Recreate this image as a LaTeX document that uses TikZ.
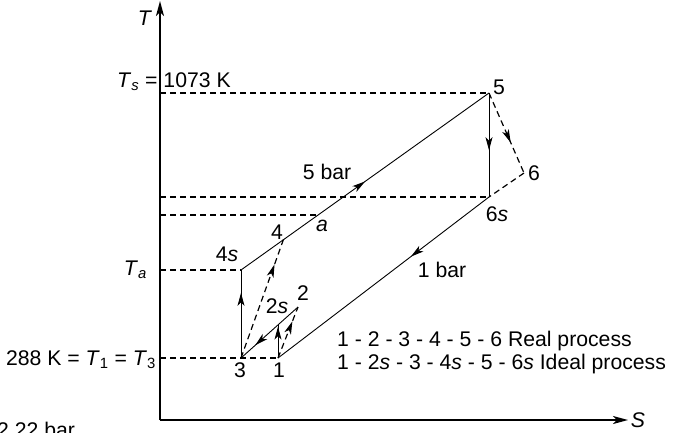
\documentclass[tikz,border=0pt]{standalone}
\usepackage{fontspec}
\setmainfont{Liberation Sans}
\usetikzlibrary{arrows.meta,decorations.markings}
\tikzset{
  axisline/.style={line width=1.6pt,-{Stealth[length=15pt,width=8pt,inset=4pt]}},
  proc/.style={line width=0.9pt},
  dsh/.style={line width=1.2pt,dash pattern=on 6pt off 4pt},
  marr/.style={postaction={decorate,decoration={markings,
     mark=at position #1 with {\arrow{Stealth[length=13pt,width=7pt,inset=3.5pt]}}}}},
  lbl/.style={inner sep=0pt,anchor=base},
}
\begin{document}
\begin{tikzpicture}[x=1pt,y=-1pt,font=\fontsize{21.2}{24}\selectfont]
\useasboundingbox (0,0) rectangle (679,432);
% coordinates
\coordinate (O) at (160,420);
\coordinate (Ttop) at (160,1);
\coordinate (Send) at (628,420);
\coordinate (p1) at (278,358);
\coordinate (p2s) at (278,325);
\coordinate (p2) at (298,307);
\coordinate (p3) at (241,358);
\coordinate (p4s) at (241,270);
\coordinate (p4) at (284,238);
\coordinate (pa) at (317,215);
\coordinate (p5) at (489,93);
\coordinate (p6s) at (489,197);
\coordinate (p6) at (524,173);
% axes
\draw[axisline] (O) -- (Ttop);
\draw[axisline] (O) -- (Send);
% dashed guide lines
\draw[dsh] (p5 -| O) -- (p5);
\draw[dsh] (p6s -| O) -- (p6s);
\draw[dsh] (pa -| O) -- (pa);
\draw[dsh] (p4s -| O) -- (p4s);
\draw[dsh] (p3 -| O) -- (p1);
% ideal / real processes
\draw[proc,marr=0.74] (p3) -- (p4s);
\draw[proc,marr=0.5] (p4s) -- (p5);
\draw[proc,marr=0.55] (p5) -- (p6s);
\draw[proc,marr=0.37] (p6s) -- (p1);
\draw[proc,marr=0.95] (p1) -- (p2s);
\draw[proc,marr=0.75] (p2) -- (p3);
\draw[dsh,marr=0.72] (p1) -- (p2);
\draw[dsh,marr=0.78] (p3) -- (p4);
\draw[dsh,marr=0.62] (p5) -- (p6);
\draw[dsh] (p6) -- (p6s);
% labels
\node[lbl] (lT) at (145,25) {\textit{T}};
\node[lbl] (lS) at (638,427) {\textit{S}};
\node[lbl,anchor=base west] (lTs) at (117,87) {\textit{T}\textsubscript{\textit{s}} = 1073 K};
\node[lbl,anchor=base east] (lTa) at (147,275) {\textit{T}\textsubscript{\textit{a}}};
\node[lbl,anchor=base east] (lT1) at (156,365) {288 K = \textit{T}\textsubscript{1} = \textit{T}\textsubscript{3}};
\node[lbl] (l5) at (499,94) {5};
\node[lbl] (l6) at (534,180) {6};
\node[lbl] (l6s) at (497,221) {6\textit{s}};
\node[lbl] (la) at (322,231) {\textit{a}};
\node[lbl] (l4) at (277,239) {4};
\node[lbl] (l4s) at (227,261) {4\textit{s}};
\node[lbl] (l2s) at (277,313) {2\textit{s}};
\node[lbl] (l2) at (303,300) {2};
\node[lbl] (l3) at (240,377) {3};
\node[lbl] (l1) at (279,377) {1};
\node[lbl] (l5bar) at (327,179) {5 bar};
\node[lbl] (l1bar) at (442,277) {1 bar};
\node[lbl,anchor=base west] (leg1) at (337,346) {1 - 2 - 3 - 4 - 5 - 6 Real process};
\node[lbl,anchor=base west] (leg2) at (337,369) {1 - 2\textit{s} - 3 - 4\textit{s} - 5 - 6\textit{s} Ideal process};
\node[lbl,anchor=base west] (l222) at (-3,437) {2.22 bar};
\end{tikzpicture}
\end{document}
